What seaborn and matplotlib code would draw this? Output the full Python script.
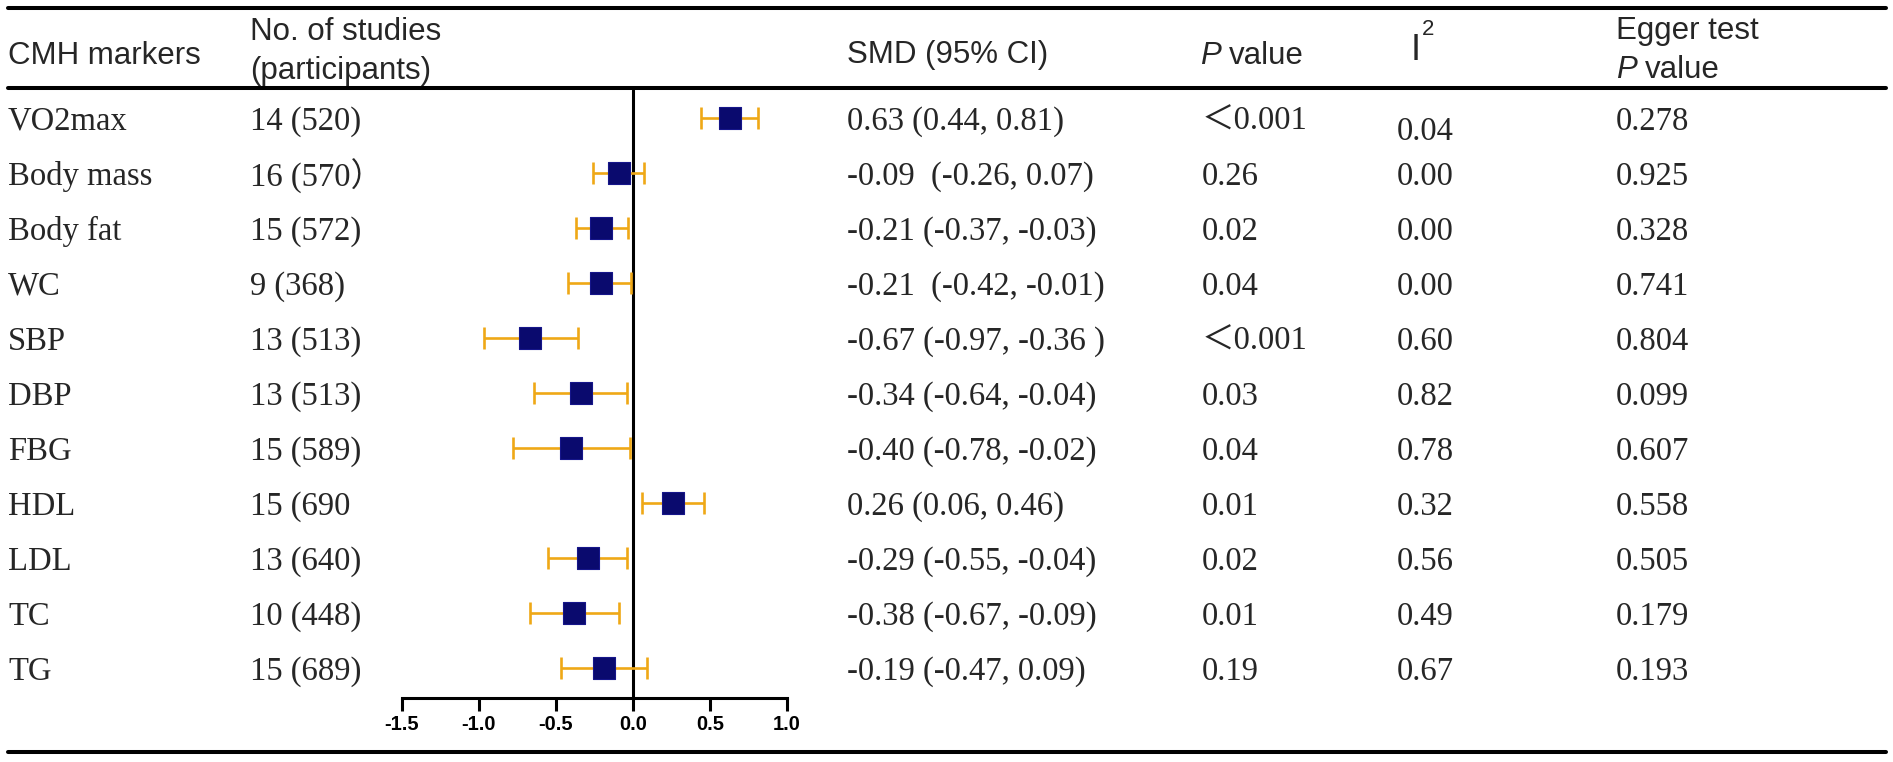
import numpy as np
import pandas as pd
import matplotlib
matplotlib.use("Agg")
import matplotlib.pyplot as plt
import matplotlib.transforms as mtransforms
from matplotlib.lines import Line2D
import seaborn as sns

# Daten
markers = ["VO2max", "Body mass", "Body fat", "WC", "SBP", "DBP", "FBG",
           "HDL", "LDL", "TC", "TG"]
studies = ["14 (520)", "16 (570）", "15 (572)", "9 (368)", "13 (513)",
           "13 (513)", "15 (589)", "15 (690", "13 (640)", "10 (448)",
           "15 (689)"]
smd = [0.63, -0.09, -0.21, -0.21, -0.67, -0.34, -0.40, 0.26, -0.29, -0.38, -0.19]
ci_low = [0.44, -0.26, -0.37, -0.42, -0.97, -0.64, -0.78, 0.06, -0.55, -0.67, -0.47]
ci_high = [0.81, 0.07, -0.03, -0.01, -0.36, -0.04, -0.02, 0.46, -0.04, -0.09, 0.09]
smd_text = ["0.63 (0.44, 0.81)", "-0.09  (-0.26, 0.07)", "-0.21 (-0.37, -0.03)",
            "-0.21  (-0.42, -0.01)", "-0.67 (-0.97, -0.36 )", "-0.34 (-0.64, -0.04)",
            "-0.40 (-0.78, -0.02)", "0.26 (0.06, 0.46)", "-0.29 (-0.55, -0.04)",
            "-0.38 (-0.67, -0.09)", "-0.19 (-0.47, 0.09)"]
p_values = ["＜0.001", "0.26", "0.02", "0.04", "＜0.001", "0.03", "0.04",
            "0.01", "0.02", "0.01", "0.19"]
i2_values = ["0.04", "0.00", "0.00", "0.00", "0.60", "0.82", "0.78", "0.32",
             "0.56", "0.49", "0.67"]
egger_p = ["0.278", "0.925", "0.328", "0.741", "0.804", "0.099", "0.607",
           "0.558", "0.505", "0.179", "0.193"]
x_ticks = [-1.5, -1.0, -0.5, 0.0, 0.5, 1.0]

df = pd.DataFrame({"marker": markers, "smd": smd, "lo": ci_low, "hi": ci_high})
df["row"] = np.arange(len(df))

sns.set_style("white")
plt.rcParams["font.family"] = ["Liberation Sans", "Noto Sans CJK SC"]

W, H = 1893, 762
fig = plt.figure(figsize=(W / 100, H / 100), dpi=100)

def fx(px):
    return px / W

def fy(py):
    return 1 - py / H

# Forest-Achse: x=-1.5 bei px 402, x=1.0 bei px 787, Zeilen ab px 118 im Abstand 55
row0, step = 118, 55
ax = fig.add_axes([fx(402), fy(698), fx(787) - fx(402), fy(90) - fy(698)])
ax.set_xlim(-1.5, 1.0)
ax.set_ylim((698 - row0) / step, (90 - row0) / step)

ax.errorbar(df["smd"], df["row"],
            xerr=[df["smd"] - df["lo"], df["hi"] - df["smd"]],
            fmt="none", ecolor="#EFA816", elinewidth=1.9, capsize=8,
            capthick=1.9, zorder=2)
sns.scatterplot(data=df, x="smd", y="row", marker="s", s=250,
                color="#0A0A6E", edgecolor="#16168A", linewidth=0.8,
                ax=ax, zorder=3, legend=False)
ax.axvline(0, color="black", lw=2.2, zorder=1)

for side in ["top", "right", "left"]:
    ax.spines[side].set_visible(False)
ax.spines["bottom"].set_linewidth(2.2)
ax.spines["bottom"].set_color("black")
ax.set_xticks(x_ticks)
ax.set_xticklabels([f"{t:.1f}" for t in x_ticks], fontweight="bold", fontsize=14.5)
ax.tick_params(axis="x", direction="out", length=9.5, width=2.2, pad=3,
               bottom=True, colors="black")
ax.set_yticks([])
ax.set_xlabel("")
ax.set_ylabel("")
ax.patch.set_alpha(0)

# Tabellen-Text
serif = ["Liberation Serif", "Noto Sans CJK SC"]
sans = ["Liberation Sans", "Noto Sans CJK SC"]
tr = mtransforms.blended_transform_factory(fig.transFigure, ax.transData)
fs = 23.5
for i in range(len(markers)):
    ax.text(fx(8), i, markers[i], transform=tr, family=serif, fontsize=fs,
            va="center_baseline", clip_on=False)
    ax.text(fx(250), i, studies[i], transform=tr, family=serif, fontsize=fs,
            va="center_baseline", clip_on=False)
    ax.text(fx(847), i, smd_text[i], transform=tr, family=serif, fontsize=fs,
            va="center_baseline", clip_on=False)
    ax.text(fx(1202), i, p_values[i], transform=tr, family=serif, fontsize=fs,
            va="center_baseline", clip_on=False)
    ax.text(fx(1397), i + (0.18 if i == 0 else 0), i2_values[i], transform=tr,
            family=serif, fontsize=fs, va="center_baseline", clip_on=False)
    ax.text(fx(1616), i, egger_p[i], transform=tr, family=serif, fontsize=fs,
            va="center_baseline", clip_on=False)

hs = 22.5
fig.text(fx(8), fy(52), "CMH markers", family=sans, fontsize=hs, va="center_baseline")
fig.text(fx(250), fy(28), "No. of studies", family=sans, fontsize=hs, va="center_baseline")
fig.text(fx(250), fy(67), "(participants)", family=sans, fontsize=hs, va="center_baseline")
fig.text(fx(847), fy(52), "SMD (95% CI)", family=sans, fontsize=hs, va="center_baseline")
fig.text(fx(1200), fy(52), "P", family=sans, fontsize=hs, style="italic", va="center_baseline")
fig.text(fx(1229), fy(52), "value", family=sans, fontsize=hs, va="center_baseline")
fig.text(fx(1411), fy(47), "I", family=sans, fontsize=26, va="center_baseline")
fig.text(fx(1422), fy(27), "2", family=sans, fontsize=16, va="center_baseline")
fig.text(fx(1616), fy(28), "Egger test", family=sans, fontsize=hs, va="center_baseline")
fig.text(fx(1616), fy(67), "P", family=sans, fontsize=hs, style="italic", va="center_baseline")
fig.text(fx(1645), fy(67), "value", family=sans, fontsize=hs, va="center_baseline")

# Tabellenlinien
for py in [8, 88, 752]:
    fig.add_artist(Line2D([fx(8), fx(1886)], [fy(py), fy(py)],
                          transform=fig.transFigure, color="black", lw=2.9))

fig.savefig("out.png", dpi=100)
